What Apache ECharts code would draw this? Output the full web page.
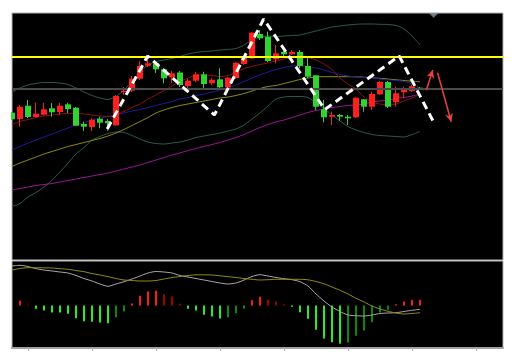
<!DOCTYPE html>
<html><head><meta charset="utf-8">
<script src="https://cdn.jsdelivr.net/npm/echarts@6/dist/echarts.min.js"></script>
<style>html,body{margin:0;padding:0;background:#fff;}#c{width:516px;height:362px;}</style>
</head><body><div id="c"></div>
<script>
// ---- candle data (index = bar number) ----
const candleOpen  = [146.3,140,153.3,142,144.3,150.7,147,154.7,151.3,135,132,140.3,138,133.7,167,168.3,180.3,193.3,195.7,189.7,181.7,186.5,173,178.3,184.7,175.7,179.7,171.7,181,195,200.7,225,222.3,199.7,207,204.7,207,193,183.7,149.7,142.3,144,142.3,141.7,159.7,152.3,164.7,177,157,166.7,168,171.3];
const candleClose = [139.7,152.3,142,145.3,149.7,146.7,153.3,150,133.3,132.3,139.3,136.3,135.7,163,168.3,180.3,193,195.7,189.7,180.7,185.7,174,178.3,184.7,175,179.3,171.7,181.3,196.3,201,226.3,220.7,198,205.7,204.7,207,193,182.3,152.3,141.7,144,142.3,140.7,161.3,152.3,165,177,152.3,165.7,169,172.7,170];
const candleLow   = [139,132.3,141,141.5,143.5,142.3,144,146,133,128,128,130.7,128.3,133,164,167,179,192,186,175.7,176,172,171,177,169,174,170,170,180,194,200,219,197,195.7,203,204,190.7,181,149,136.7,134,138,134,141,147.3,149,164,151,152.3,160.7,167,169];
const candleHigh  = [147,154,159,156.3,156,156,156,156.3,152,137.3,140.7,142.3,140,164,172,183,198.3,201,197,191,188,188,180,187.3,187.3,181,190.7,182,197,202,227,229,227.3,214,208,209,209,202.3,184,159,147.3,145,144,162,160,167.3,178,178,172.3,172.3,174,172];

// ---- overlay lines ----
const maFast = [134.5,137.5,139.5,141.5,143,144,145,145.5,145.7,145,144,143,142.5,144,147.5,151.5,155,160,164,168.5,173,177.5,181,183.5,184,183.5,182.5,183.5,187,190.5,192.5,194.5,196,198,200,202,202.5,201.5,199,195,189.5,181,175,170,162,157,155,154,155,158,161,164.5];
const maMid  = [109,112.5,116,119,122,125,128,131,134,136.5,139,141,142.5,144,146,148,149.5,151.5,153.5,155.5,157.5,160,161.5,163.5,165,167,169,171,174,177.5,181,184,187,189.5,191.5,193,193.5,192.5,191,189,186.5,184.5,183,182,181.5,181,180,179,178.5,177.5,175,171];
const maSlow = [92.5,96,99,102,105,107.5,110,112.5,114.5,116.5,118.5,120.5,123,126,129.5,133.5,137.5,141.5,146,149,151.5,153.5,155,156.5,158,159.5,161,162,163.5,165.5,168,170.5,172.5,173.5,175.5,177.5,179.5,181,182,182.3,182.3,182.3,182.3,182.2,181.8,181.2,180.6,180,179.2,178.5,177.8,177.2];
const maLong = [69,70.5,72,73.5,74.5,75.5,77,78.5,80,81.5,83,84.5,86,88,90,92,94,96.5,99,101.5,104,106,108.5,110.5,112.5,114.5,116.5,119,121.5,124.5,128,131.5,134.5,137,139,141.5,144,146.5,148.5,150,151.5,152.5,153.5,154,155,157,158,159,160.5,161.5,163,164.5];
const bollUpper = [167,171,174,175.5,176.5,176.5,176,174.5,171,167,163.5,161,159.5,162.5,169,177.5,187,194,197.5,199,200.5,202.5,205,206.5,207.5,208,209,209.5,210.5,214,219,222,223,222.5,223,223.5,224,226,228,230,232,233,234,234.7,235,235,234.7,234.5,233.5,230,223,214];
const bollLower = [52.5,55.5,62,66.5,72,79,87,96,105,111.5,119,122.5,125.5,127,126.5,123.5,120,117,115.5,115,116,117,119,121.5,123,124.5,126,128,130,134,140,146,153,160,162,162.5,162.5,161.5,156,150.5,144,138,132.5,129,126.5,124.5,123.5,123,122.5,122,124.5,127.5];

// ---- levels & annotations ----
const levelResistance = 202.3;
const levelSupport = 170.3;
const zigzagX = [11.9,16.96,25.3,31.46,39.1,48.4,52.7];
const zigzagY = [130,203,144,240,149.5,203,137];
const arrowUp   = [[51.8,169],[52.6,189]];
const arrowDown = [[53.2,186.3],[54.9,137.3]];
const markerPos = [52.7,243.7];

// ---- MACD ----
const macdDif  = [39.5,40.2,39,36.8,35.5,34.5,33.5,32.5,30,27,24.5,21.5,19.2,21.5,23.8,26.5,29.5,32.5,34,33.5,32.5,30,28.5,27,25.5,24,22.5,21.5,22.5,25.5,29,30.8,29.5,28,26.8,25.8,23.8,19.5,11.5,4.5,-1.5,-6,-9.5,-10.3,-10.5,-9.5,-8,-7.5,-7.2,-6,-4.8,-3.8];
const macdDea  = [35.5,37,37.8,37.8,37.7,37.5,36.8,36.2,35,33.8,32,30.5,28.8,27,25.5,25,24.5,24.5,25,26.5,28,29,30,30.7,30.7,30.5,29.7,28.8,28,27,26.2,25.5,25.8,26.2,26.2,26.2,26.2,25.7,24,21.7,18.5,15.2,11.5,7.2,3.5,-0.5,-3.5,-5.8,-7.5,-8.5,-8,-7.2];
const macdHist = [0,4.7,0.7,-3.3,-5,-7,-7,-8.3,-12.7,-15.7,-16.3,-17,-17.7,-11.7,-6,2,9.7,14,14.7,11.3,9,1.7,-3.3,-5,-9.3,-11,-13,-11.7,-7.7,-3.3,5.3,8.7,5.7,4,1.3,-1.3,-6.7,-13.3,-24.3,-33,-36.7,-38.3,-37,-30.3,-25,-16.7,-7,-4.3,1.3,4,5.7,5.7];
const tickBars = [2,10,18,26,34,42,50,58];

const candleData = candleOpen.map((o,i)=>[i,o,candleClose[i],candleLow[i],candleHigh[i]]);
const histData = macdHist.map((v,i)=>[i,v,i>0?macdHist[i-1]:v]);
const toXY = arr => arr.map((v,i)=>[i,v]);

function renderCandle(params, api){
  const x=api.value(0), o=api.value(1), c=api.value(2), l=api.value(3), h=api.value(4);
  const pO=api.coord([x,o]), pC=api.coord([x,c]), pL=api.coord([x,l]), pH=api.coord([x,h]);
  const up = c>=o;
  const color = up ? '#ff1f1f' : '#2fd42f';
  const cx = Math.round(pO[0]);
  const top=Math.min(pO[1],pC[1]), bot=Math.max(pO[1],pC[1]);
  const cs=params.coordSys;
  const rect = echarts.graphic.clipRectByRect({x:cx-3,y:top,width:6,height:Math.max(bot-top,1.5)},{x:cs.x,y:cs.y,width:cs.width,height:cs.height});
  const children=[{type:'line',shape:{x1:cx-0.5,y1:pH[1],x2:cx-0.5,y2:pL[1]},style:{stroke:color,lineWidth:1}}];
  if(rect) children.push({type:'rect',shape:rect,style:{fill:color}});
  return {type:'group',children};
}
function renderHist(params, api){
  const x=api.value(0), v=api.value(1), prev=api.value(2);
  const p0=api.coord([x,0]), p1=api.coord([x,v]);
  let color;
  if(v>=0) color = v>=prev ? '#ff1a1a' : '#a00000';
  else color = v<=prev ? '#22ee22' : '#0a8a0a';
  const cx=Math.round(p0[0]);
  const top=Math.min(p0[1],p1[1]), bot=Math.max(p0[1],p1[1]);
  if(bot-top<0.3) return null;
  return {type:'rect',shape:{x:cx-1,y:top,width:2,height:bot-top},style:{fill:color}};
}
const lineSeries=(name,data,color,extra)=>Object.assign({name,type:'line',xAxisIndex:0,yAxisIndex:0,data:toXY(data),showSymbol:false,smooth:0.25,lineStyle:{color,width:1},silent:true,z:2},extra||{});

const chart = echarts.init(document.getElementById('c'),null,{renderer:'canvas'});
chart.setOption({
  animation:false,
  backgroundColor:'#ffffff',
  grid:[
    {left:12,top:13,width:491,height:247,show:true,backgroundColor:'#000',borderColor:'#b4b4b4',borderWidth:1},
    {left:12,top:261,width:491,height:87,show:true,backgroundColor:'#000',borderColor:'#b4b4b4',borderWidth:1}
  ],
  xAxis:[
    {type:'value',gridIndex:0,min:0,max:61.375,show:false},
    {type:'value',gridIndex:1,min:0,max:61.375,splitLine:{show:false},
     axisLine:{show:true,onZero:false,lineStyle:{color:'#a0a0a0',width:2}},
     axisTick:{show:true,customValues:tickBars,length:3,lineStyle:{color:'#b8b8b8'}},
     axisLabel:{show:false}}
  ],
  yAxis:[
    {type:'value',gridIndex:0,min:-1,max:246,show:false},
    {type:'value',gridIndex:1,min:-42.5,max:44.5,show:false}
  ],
  series:[
    lineSeries('BollUpper',bollUpper,'#2b5e44'),
    lineSeries('BollLower',bollLower,'#2b5e44'),
    lineSeries('MALong',maLong,'#9a189a'),
    lineSeries('MASlow',maSlow,'#8e8e12'),
    lineSeries('MAMid',maMid,'#1c1ca0'),
    lineSeries('MAFast',maFast,'#8e1010'),
    {name:'Levels',type:'line',xAxisIndex:0,yAxisIndex:0,data:[],silent:true,z:4,
     markLine:{silent:true,symbol:['none','none'],label:{show:false},animation:false,
       data:[{yAxis:levelSupport,lineStyle:{color:'#4a4a4a',width:2,type:'solid'}},
             {yAxis:levelResistance,lineStyle:{color:'#ffff00',width:2,type:'solid'}}]}},
    {name:'K',type:'custom',xAxisIndex:0,yAxisIndex:0,data:candleData,renderItem:renderCandle,z:3,silent:true},
    {name:'Zigzag',type:'line',xAxisIndex:0,yAxisIndex:0,data:zigzagX.map((x,i)=>[x,zigzagY[i]]),showSymbol:false,silent:true,z:6,
     lineStyle:{color:'#ffffff',width:3,type:[8,5],cap:'butt'},
     markLine:{silent:true,symbol:['none','arrow'],symbolSize:[6,8],label:{show:false},animation:false,
       lineStyle:{color:'#e8433c',width:1.5,type:'solid'},
       data:[[{coord:arrowUp[0]},{coord:arrowUp[1]}],[{coord:arrowDown[0]},{coord:arrowDown[1]}]]}},
    {name:'Marker',type:'scatter',xAxisIndex:0,yAxisIndex:0,data:[markerPos],symbol:'triangle',symbolRotate:180,symbolSize:[10,5],itemStyle:{color:'#8c9aa8'},silent:true,z:7},
    {name:'Hist',type:'custom',xAxisIndex:1,yAxisIndex:1,data:histData,renderItem:renderHist,silent:true,z:2},
    {name:'DIF',type:'line',xAxisIndex:1,yAxisIndex:1,data:toXY(macdDif),showSymbol:false,smooth:0.25,lineStyle:{color:'#a8a8a8',width:1},silent:true,z:3},
    {name:'DEA',type:'line',xAxisIndex:1,yAxisIndex:1,data:toXY(macdDea),showSymbol:false,smooth:0.25,lineStyle:{color:'#8e8e12',width:1},silent:true,z:3}
  ]
});
</script></body></html>
